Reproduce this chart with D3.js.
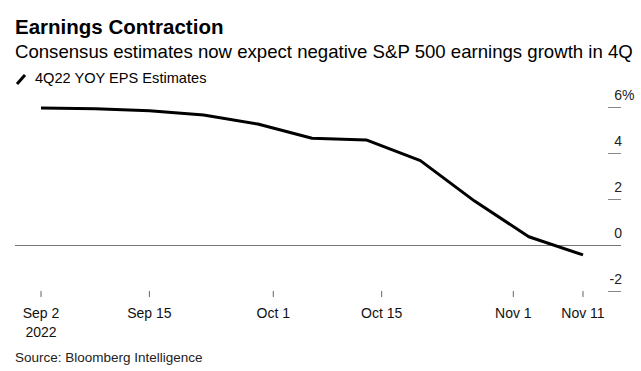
<!DOCTYPE html>
<html>
<head>
<meta charset="utf-8">
<script src="https://cdn.jsdelivr.net/npm/d3@7"></script>
<style>
  body { margin: 0; background: #fff; }
  svg { display: block; font-family: "Liberation Sans", Arial, sans-serif; }
</style>
</head>
<body>
<svg id="chart" width="641" height="371"></svg>
<script>
// weekly observations (Thursdays)
const dates = ['2022-09-01', '2022-09-08', '2022-09-15', '2022-09-22', '2022-09-29', '2022-10-06',
  '2022-10-13', '2022-10-20', '2022-10-27', '2022-11-03', '2022-11-10'];
const epsGrowth = [5.98, 5.95, 5.86, 5.67, 5.28, 4.66, 4.59, 3.69, 1.93, 0.38, -0.41];

const tickDates = ['2022-09-01', '2022-09-15', '2022-10-01', '2022-10-15', '2022-11-01', '2022-11-10'];
const tickLabels = [['Sep 2', '2022'], ['Sep 15'], ['Oct 1'], ['Oct 15'], ['Nov 1'], ['Nov 11']];
const yTicks = [6, 4, 2, 0, -2];

const parse = d3.timeParse('%Y-%m-%d');
const data = dates.map((d, i) => ({date: parse(d), value: epsGrowth[i]}));

const svg = d3.select('#chart');

const x = d3.scaleTime()
  .domain(d3.extent(data, d => d.date))
  .range([41, 583]);

const y = d3.scaleLinear()
  .domain([-2, 6])
  .range([291.5, 107.5]);

// header
svg.append('text')
  .attr('x', 15).attr('y', 34)
  .style('font-size', '20.5px').style('font-weight', 'bold').style('fill', '#000')
  .text('Earnings Contraction');

svg.append('text')
  .attr('x', 15).attr('y', 58)
  .style('font-size', '18.6px').style('fill', '#000')
  .text('Consensus estimates now expect negative S&P 500 earnings growth in 4Q');

// legend
svg.append('line')
  .attr('x1', 17).attr('y1', 84).attr('x2', 25).attr('y2', 75)
  .style('stroke', '#000').style('stroke-width', 3);

svg.append('text')
  .attr('x', 35).attr('y', 83)
  .style('font-size', '14.6px').style('fill', '#000')
  .text('4Q22 YOY EPS Estimates');

// y axis: short ticks on right, zero line across
const yAxis = svg.append('g');

yTicks.forEach(t => {
  yAxis.append('line')
    .attr('x1', t === 0 ? 15 : 608).attr('x2', 621)
    .attr('y1', y(t)).attr('y2', y(t))
    .style('stroke', t === 0 ? '#777' : '#888')
    .style('stroke-width', 1);

  yAxis.append('text')
    .attr('x', 622).attr('y', y(t) - 8)
    .attr('text-anchor', 'end')
    .style('font-size', '14px').style('fill', '#222')
    .text(t);

  if (t === 6) {
    yAxis.append('text')
      .attr('x', 622).attr('y', y(t) - 8)
      .style('font-size', '14px').style('fill', '#222')
      .text('%');
  }
});

// x axis ticks
const xAxis = svg.append('g');
tickDates.forEach((d, i) => {
  const px = x(parse(d));
  xAxis.append('line')
    .attr('x1', px).attr('x2', px)
    .attr('y1', 291).attr('y2', 297)
    .style('stroke', '#666').style('stroke-width', 1);

  xAxis.append('text')
    .attr('text-anchor', 'middle')
    .style('font-size', '14px').style('fill', '#111')
    .selectAll('tspan')
    .data(tickLabels[i])
    .enter()
    .append('tspan')
    .attr('x', px)
    .attr('y', (s, j) => 318 + j * 19)
    .text(s => s);
});

// line
const line = d3.line()
  .x(d => x(d.date))
  .y(d => y(d.value));

svg.append('path')
  .datum(data)
  .attr('d', line)
  .style('fill', 'none')
  .style('stroke', '#000')
  .style('stroke-width', 3)
  .style('stroke-linejoin', 'round');

svg.append('text')
  .attr('x', 15).attr('y', 362)
  .style('font-size', '13.5px').style('fill', '#222')
  .text('Source: Bloomberg Intelligence');
</script>
</body>
</html>
